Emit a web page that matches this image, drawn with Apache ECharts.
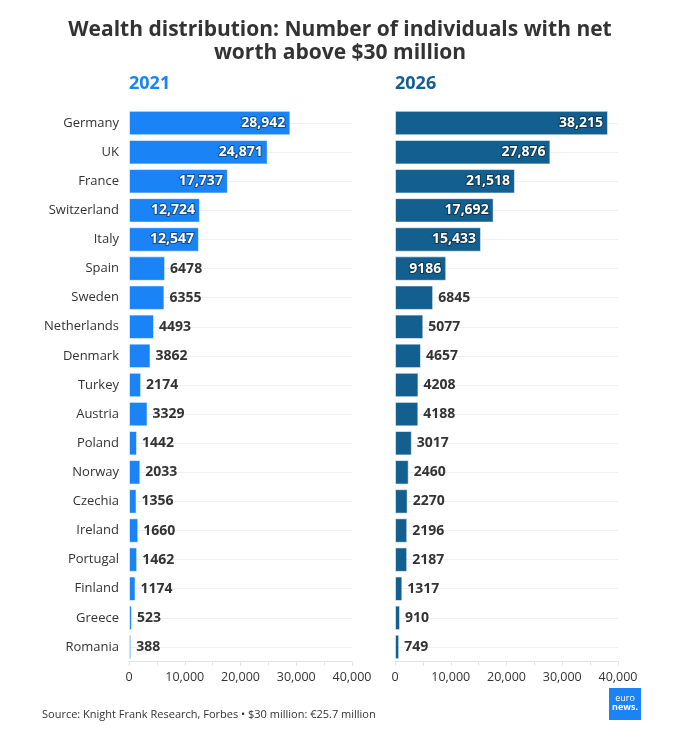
<!DOCTYPE html>
<html>
<head>
<meta charset="utf-8">
<script src="https://cdn.jsdelivr.net/npm/echarts@6/dist/echarts.min.js"></script>
<style>
html,body{margin:0;padding:0;background:#fff;}
#chart{width:680px;height:750px;}
</style>
</head>
<body>
<div id="chart"></div>
<script>
const categories = ["Germany","UK","France","Switzerland","Italy","Spain","Sweden","Netherlands","Denmark","Turkey","Austria","Poland","Norway","Czechia","Ireland","Portugal","Finland","Greece","Romania"];
const values2021 = [28942,24871,17737,12724,12547,6478,6355,4493,3862,2174,3329,1442,2033,1356,1660,1462,1174,523,388];
const values2026 = [38215,27876,21518,17692,15433,9186,6845,5077,4657,4208,4188,3017,2460,2270,2196,2187,1317,910,749];
const xTicks = [0,10000,20000,30000,40000];

const color2021 = '#1a83f5';
const color2026 = '#135f8f';
const FONT = '"Open Sans", "Noto Sans", sans-serif';

function fmt(v){ return v >= 10000 ? v.toLocaleString('en-US') : String(v); }

function buildData(vals){
  return vals.map(v => {
    const inside = v >= 9000;
    return {
      value: v,
      label: inside ? {
        position: 'insideRight', color: '#fff',
        textBorderColor: 'rgba(0,0,0,0.4)', textBorderWidth: 2
      } : {
        position: 'right', color: '#333', textBorderWidth: 0
      }
    };
  });
}

const chart = echarts.init(document.getElementById('chart'), null, {renderer:'canvas'});

const grids = [
  {left:129, width:223, top:108.5, height:553},
  {left:395, width:223, top:108.5, height:553}
];

function xAxis(i){
  return {
    gridIndex:i, type:'value', min:0, max:40000, interval:5000,
    axisLine:{show:true, lineStyle:{color:'#e3e3e3'}},
    axisTick:{show:true, length:4, lineStyle:{color:'#e3e3e3'}},
    splitLine:{show:false},
    axisLabel:{
      color:'#333', fontSize:12.5, fontFamily:FONT, margin:9,
      formatter: v => xTicks.indexOf(v) >= 0 ? v.toLocaleString('en-US') : ''
    }
  };
}
function yAxis(i){
  return {
    gridIndex:i, type:'category', data:categories, inverse:true,
    axisLine:{show:false}, axisTick:{show:false}, splitLine:{show:false},
    axisLabel:{show:i===0, color:'#333', fontSize:13, fontFamily:FONT, margin:10}
  };
}
function gridLines(i){
  return {
    type:'line', xAxisIndex:i, yAxisIndex:i, z:1, silent:true,
    data: categories.map(() => null), showSymbol:false,
    lineStyle:{opacity:0},
    markLine:{
      silent:true, symbol:['none','none'], animation:false, z:1,
      label:{show:false},
      lineStyle:{color:'#efefef', width:1, type:'solid'},
      data: categories.map(c => ({yAxis:c}))
    }
  };
}
function bars(i, vals, col){
  return {
    type:'bar', xAxisIndex:i, yAxisIndex:i, z:3,
    barCategoryGap:'16%',
    itemStyle:{color:col, borderColor:'rgba(255,255,255,0.55)', borderWidth:1},
    label:{show:true, fontFamily:FONT, fontWeight:'bold', fontSize:14, distance:5,
      formatter: p => fmt(p.value)},
    data: buildData(vals),
    animation:false
  };
}

chart.setOption({
  animation:false,
  textStyle:{fontFamily:FONT},
  title:{
    text:'Wealth distribution: Number of individuals with net\nworth above $30 million',
    left:'center', top:14,
    textStyle:{fontFamily:FONT, fontSize:21, fontWeight:'bold', color:'#333', lineHeight:23}
  },
  grid:grids,
  xAxis:[xAxis(0), xAxis(1)],
  yAxis:[yAxis(0), yAxis(1)],
  series:[gridLines(0), gridLines(1), bars(0, values2021, color2021), bars(1, values2026, color2026)],
  graphic:[
    {type:'text', left:129, top:75, style:{text:'2021', fill:color2021, font:'bold 18px ' + FONT}},
    {type:'text', left:395, top:75, style:{text:'2026', fill:color2026, font:'bold 18px ' + FONT}},
    {type:'text', left:42, top:709, style:{text:'Source: Knight Frank Research, Forbes • $30 million: €25.7 million', fill:'#333', font:'11px ' + FONT}},
    {type:'group', left:609, top:688, children:[
      {type:'rect', shape:{x:0,y:0,width:32,height:32}, style:{fill:'#1a83f5'}},
      {type:'text', x:16, y:10, style:{text:'euro', fill:'#fff', font:'9px ' + FONT, align:'center', verticalAlign:'middle'}},
      {type:'text', x:16, y:19, style:{text:'news.', fill:'#fff', font:'bold 9px ' + FONT, align:'center', verticalAlign:'middle'}}
    ]}
  ]
});
</script>
</body>
</html>
